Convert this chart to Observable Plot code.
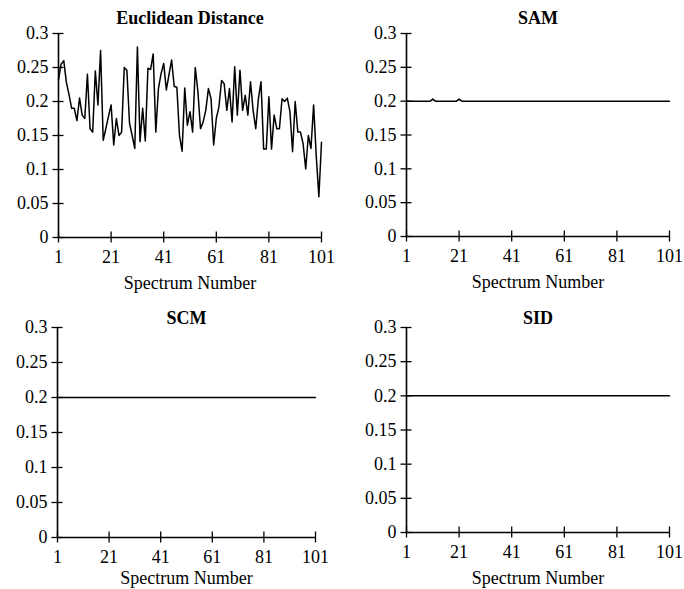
<!DOCTYPE html>
<html><head><meta charset="utf-8">
<script src="https://cdn.jsdelivr.net/npm/d3@7"></script>
<script src="https://cdn.jsdelivr.net/npm/@observablehq/plot@0.6"></script>
<style>
body{margin:0;background:#fff;}
#wrap{position:relative;width:684px;height:589px;overflow:hidden;background:#fff;}
#wrap svg{position:absolute;}
</style></head><body><div id="wrap"></div>
<script>
const spectrum = d3.range(1, 102);
const xTicks = [1, 21, 41, 61, 81, 101];
const yTicks = [0, 0.05, 0.1, 0.15, 0.2, 0.25, 0.3];
const yTickLabels = ["0", "0.05", "0.1", "0.15", "0.2", "0.25", "0.3"];
const titles = ["Euclidean Distance", "SAM", "SCM", "SID"];
const xLabel = "Spectrum Number";

const euclidean = [
  0.232,0.255,0.26,0.228,0.21,0.19,0.19,0.172,0.205,0.18,
  0.175,0.24,0.16,0.155,0.245,0.195,0.275,0.143,0.16,0.178,
  0.195,0.136,0.175,0.15,0.155,0.25,0.246,0.168,0.15,0.131,
  0.28,0.141,0.19,0.142,0.249,0.247,0.27,0.155,0.219,0.241,
  0.256,0.217,0.239,0.261,0.222,0.221,0.15,0.127,0.22,0.165,
  0.185,0.155,0.25,0.215,0.16,0.17,0.187,0.219,0.204,0.136,
  0.175,0.192,0.231,0.226,0.187,0.219,0.17,0.251,0.18,0.246,
  0.187,0.209,0.18,0.229,0.187,0.16,0.204,0.229,0.13,0.13,
  0.207,0.13,0.18,0.16,0.16,0.204,0.2,0.205,0.185,0.126,
  0.2,0.155,0.155,0.138,0.101,0.15,0.131,0.195,0.12,0.06,
  0.14
];
const sam = [
  0.2,0.2,0.2,0.2,0.2,0.2,0.2,0.2,0.2,0.2,
  0.203,0.2,0.2,0.2,0.2,0.2,0.2,0.2,0.2,0.2,
  0.203,0.2,0.2,0.2,0.2,0.2,0.2,0.2,0.2,0.2,
  0.2,0.2,0.2,0.2,0.2,0.2,0.2,0.2,0.2,0.2,
  0.2,0.2,0.2,0.2,0.2,0.2,0.2,0.2,0.2,0.2,
  0.2,0.2,0.2,0.2,0.2,0.2,0.2,0.2,0.2,0.2,
  0.2,0.2,0.2,0.2,0.2,0.2,0.2,0.2,0.2,0.2,
  0.2,0.2,0.2,0.2,0.2,0.2,0.2,0.2,0.2,0.2,
  0.2,0.2,0.2,0.2,0.2,0.2,0.2,0.2,0.2,0.2,
  0.2,0.2,0.2,0.2,0.2,0.2,0.2,0.2,0.2,0.2,
  0.2
];
const scm = [
  0.2,0.2,0.2,0.2,0.2,0.2,0.2,0.2,0.2,0.2,
  0.2,0.2,0.2,0.2,0.2,0.2,0.2,0.2,0.2,0.2,
  0.2,0.2,0.2,0.2,0.2,0.2,0.2,0.2,0.2,0.2,
  0.2,0.2,0.2,0.2,0.2,0.2,0.2,0.2,0.2,0.2,
  0.2,0.2,0.2,0.2,0.2,0.2,0.2,0.2,0.2,0.2,
  0.2,0.2,0.2,0.2,0.2,0.2,0.2,0.2,0.2,0.2,
  0.2,0.2,0.2,0.2,0.2,0.2,0.2,0.2,0.2,0.2,
  0.2,0.2,0.2,0.2,0.2,0.2,0.2,0.2,0.2,0.2,
  0.2,0.2,0.2,0.2,0.2,0.2,0.2,0.2,0.2,0.2,
  0.2,0.2,0.2,0.2,0.2,0.2,0.2,0.2,0.2,0.2,
  0.2
];
const sid = [
  0.2,0.2,0.2,0.2,0.2,0.2,0.2,0.2,0.2,0.2,
  0.2,0.2,0.2,0.2,0.2,0.2,0.2,0.2,0.2,0.2,
  0.2,0.2,0.2,0.2,0.2,0.2,0.2,0.2,0.2,0.2,
  0.2,0.2,0.2,0.2,0.2,0.2,0.2,0.2,0.2,0.2,
  0.2,0.2,0.2,0.2,0.2,0.2,0.2,0.2,0.2,0.2,
  0.2,0.2,0.2,0.2,0.2,0.2,0.2,0.2,0.2,0.2,
  0.2,0.2,0.2,0.2,0.2,0.2,0.2,0.2,0.2,0.2,
  0.2,0.2,0.2,0.2,0.2,0.2,0.2,0.2,0.2,0.2,
  0.2,0.2,0.2,0.2,0.2,0.2,0.2,0.2,0.2,0.2,
  0.2,0.2,0.2,0.2,0.2,0.2,0.2,0.2,0.2,0.2,
  0.2
];

const FONT = "'Liberation Serif', 'Times New Roman', serif";

function panel(title, values, pos) {
  const {left, top, width, height, mt, mb, ml, mr, titleDy, labelDy} = pos;
  const data = spectrum.map((s, i) => ({s, v: values[i]}));
  const ph = height - mt - mb, pw = width - ml - mr;
  const tk = 5.5;
  const svg = Plot.plot({
    width, height,
    marginTop: mt, marginBottom: mb, marginLeft: ml, marginRight: mr,
    style: {fontFamily: FONT, fontSize: "18px", color: "#000", background: "transparent", overflow: "visible"},
    x: {domain: [1, 101]},
    y: {domain: [0, 0.3]},
    marks: [
      Plot.axisX({ticks: xTicks, tickSize: 0, tickPadding: 13, tickFormat: d => String(d), label: null, fontSize: 18}),
      Plot.axisY({ticks: yTicks, tickSize: 0, tickPadding: 10, tickFormat: d => yTickLabels[yTicks.indexOf(d)], label: null, fontSize: 18}),
      Plot.tickX(xTicks, {x: d => d, insetTop: ph - tk, insetBottom: -tk, stroke: "#000", strokeWidth: 1.3}),
      Plot.tickY(yTicks, {y: d => d, insetLeft: -tk, insetRight: pw - tk, stroke: "#000", strokeWidth: 1.3}),
      Plot.ruleY([0], {stroke: "#000", strokeWidth: 1.6}),
      Plot.ruleX([1], {stroke: "#000", strokeWidth: 1.6}),
      Plot.line(data, {x: "s", y: "v", stroke: "#000", strokeWidth: 1.5}),
      Plot.text([title], {text: d => d, frameAnchor: "top", lineAnchor: "bottom", dy: titleDy, fontWeight: "bold", fontSize: 18}),
      Plot.text([xLabel], {text: d => d, frameAnchor: "bottom", lineAnchor: "top", dy: labelDy, fontSize: 18})
    ]
  });
  svg.style.left = left + "px";
  svg.style.top = top + "px";
  document.getElementById("wrap").appendChild(svg);
}

panel(titles[0], euclidean, {left: 0, top: 0, width: 342, height: 300, mt: 33, mb: 63, ml: 58, mr: 21, titleDy: -10, labelDy: 39});
panel(titles[1], sam, {left: 342, top: 0, width: 342, height: 300, mt: 33, mb: 64, ml: 64, mr: 15, titleDy: -10, labelDy: 39});
panel(titles[2], scm, {left: 0, top: 295, width: 342, height: 294, mt: 32, mb: 52, ml: 57, mr: 27, titleDy: -4, labelDy: 34});
panel(titles[3], sid, {left: 342, top: 295, width: 342, height: 294, mt: 32, mb: 57, ml: 64, mr: 15, titleDy: -4, labelDy: 39});
</script>
</body></html>
